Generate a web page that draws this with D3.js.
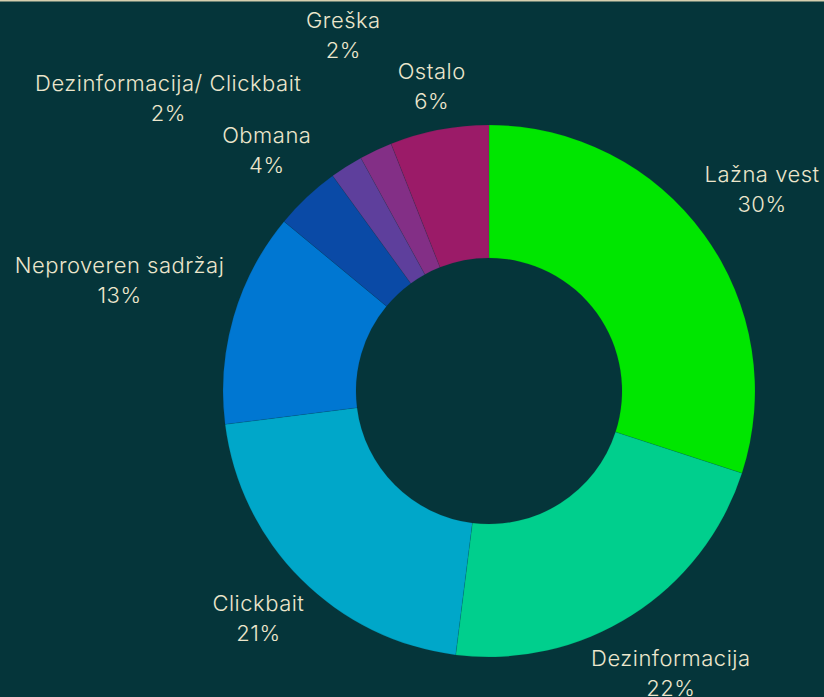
<!DOCTYPE html>
<html>
<head>
<meta charset="utf-8">
<script src="https://cdn.jsdelivr.net/npm/d3@7"></script>
<style>
  html, body { margin: 0; padding: 0; background: #05353a; }
  svg { display: block; }
  .lbl { font-family: Inter, "Open Sans", sans-serif; font-size: 22px; font-weight: 300;
         letter-spacing: 0.5px; fill: #ece6cc; }
</style>
</head>
<body>
<script>
// categories and shares (%)
var categories = ["Lažna vest", "Dezinformacija", "Clickbait", "Neproveren sadržaj",
                  "Obmana", "Dezinformacija/ Clickbait", "Greška", "Ostalo"];
var shares = [30, 22, 21, 13, 4, 2, 2, 6];
var colors = ["#00e600", "#00cf8d", "#00a7c9", "#0077d2", "#0a4aa6", "#5e3f9c", "#832f86", "#9b1b68"];

var width = 824, height = 697;
var cx = 489, cy = 391,
    outerR = 266, innerR = 133;

var svg = d3.select("body").append("svg")
    .attr("width", width)
    .attr("height", height);

svg.append("rect")
    .attr("width", width).attr("height", height)
    .attr("fill", "#05353a");
// thin light line at the very top
svg.append("rect")
    .attr("width", width).attr("height", 1.5)
    .attr("fill", "#d6cfae");

var data = categories.map(function(c, i) { return {name: c, value: shares[i], color: colors[i]}; });

var pie = d3.pie().sort(null).value(function(d) { return d.value; });
var arc = d3.arc().innerRadius(innerR).outerRadius(outerR);

var g = svg.append("g").attr("transform", "translate(" + cx + "," + cy + ")");

var arcs = pie(data);

g.selectAll("path")
    .data(arcs)
  .enter().append("path")
    .attr("d", arc)
    .attr("fill", function(d) { return d.data.color; })
    .attr("stroke", "#05353a")
    .attr("stroke-opacity", 0.25)
    .attr("stroke-width", 0.5);

// labels: pushed out along the slice's mid angle, clear of the ring
// small slices at the top are nudged apart by hand so they don't collide
var nudge = {
  "Greška": {da: 2.7, dr: 68},
  "Dezinformacija/ Clickbait": {da: -15.6, dr: 40}
};

var lineGap = 30;

var labels = g.selectAll(".lab")
    .data(arcs)
  .enter().append("text")
    .attr("class", "lbl")
    .attr("text-anchor", "middle");

labels.append("tspan")
    .attr("x", 0).attr("dy", -lineGap / 2 + 4)
    .text(function(d) { return d.data.name; });
labels.append("tspan")
    .attr("x", 0).attr("dy", lineGap)
    .text(function(d) { return d.data.value + "%"; });

labels.each(function(d) {
  var el = d3.select(this);
  var bb = this.getBBox();
  var a = (d.startAngle + d.endAngle) / 2;
  var n = nudge[d.data.name];
  if (n) a += n.da * Math.PI / 180;
  var r = outerR + 12 + (bb.width / 2) * Math.abs(Math.sin(a)) + 22 * Math.abs(Math.cos(a));
  if (n) r += n.dr;
  el.attr("transform", "translate(" + (r * Math.sin(a)) + "," + (-r * Math.cos(a)) + ")");
});
</script>
</body>
</html>
